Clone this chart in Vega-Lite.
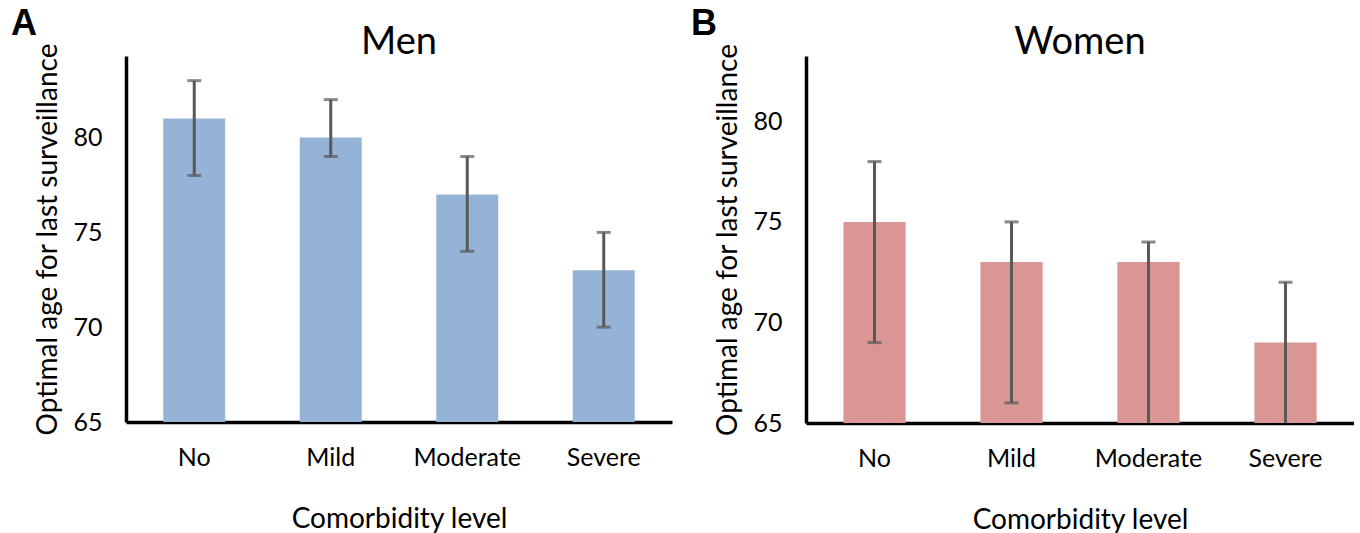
{
  "$schema": "https://vega.github.io/schema/vega-lite/v6.json",
  "background": "white",
  "padding": {"left": 10, "top": 5, "right": 0, "bottom": 0},
  "spacing": 18,
  "datasets": {
    "d": [
      {"sex": "Men", "level": "No", "value": 81, "lower": 78, "upper": 83},
      {"sex": "Men", "level": "Mild", "value": 80, "lower": 79, "upper": 82},
      {"sex": "Men", "level": "Moderate", "value": 77, "lower": 74, "upper": 79},
      {"sex": "Men", "level": "Severe", "value": 73, "lower": 70, "upper": 75},
      {"sex": "Women", "level": "No", "value": 75, "lower": 69, "upper": 78},
      {"sex": "Women", "level": "Mild", "value": 73, "lower": 66, "upper": 75},
      {"sex": "Women", "level": "Moderate", "value": 73, "lower": 64, "upper": 74},
      {"sex": "Women", "level": "Severe", "value": 69, "lower": 64, "upper": 72}
    ]
  },
  "hconcat": [
    {
      "title": {"text": "A", "anchor": "start", "fontSize": 36, "fontWeight": "bold", "font": "Liberation Sans", "dx": -24, "offset": -19},
      "hconcat": [
        {
          "width": 546,
          "height": 366,
          "title": {"text": "Men", "fontSize": 38, "offset": -19},
          "data": {"name": "d"},
          "transform": [{"filter": "datum.sex === 'Men'"}],
          "encoding": {
            "x": {
              "field": "level", "type": "nominal", "sort": ["No", "Mild", "Moderate", "Severe"],
              "scale": {"paddingInner": 0.546, "paddingOuter": 0.273},
              "title": "Comorbidity level"
            }
          },
          "layer": [
            {
              "mark": {"type": "bar", "color": "#95B3D7"},
              "encoding": {
                "y": {"field": "value", "type": "quantitative", "title": "Optimal age for last surveillance",
                  "scale": {"domain": [65, 84.3], "nice": false, "zero": false},
                  "axis": {"values": [65, 70, 75, 80]}},
                "y2": {"datum": 65}
              }
            },
            {
              "mark": {"type": "rule", "color": "#595959", "strokeWidth": 3, "clip": true},
              "encoding": {
                "y": {"field": "lower", "type": "quantitative", "title": "Optimal age for last surveillance"},
                "y2": {"field": "upper"}
              }
            },
            {
              "mark": {"type": "tick", "color": "#595959", "thickness": 3, "size": 14, "clip": true},
              "encoding": {"y": {"field": "upper", "type": "quantitative", "title": "Optimal age for last surveillance"}}
            },
            {
              "mark": {"type": "tick", "color": "#595959", "thickness": 3, "size": 14, "clip": true},
              "encoding": {"y": {"field": "lower", "type": "quantitative", "title": "Optimal age for last surveillance"}}
            }
          ]
        }
      ]
    },
    {
      "title": {"text": "B", "anchor": "start", "fontSize": 36, "fontWeight": "bold", "font": "Liberation Sans", "dx": -24, "offset": -19},
      "hconcat": [
        {
          "width": 548,
          "height": 367,
          "title": {"text": "Women", "fontSize": 38, "offset": -19},
          "data": {"name": "d"},
          "transform": [{"filter": "datum.sex === 'Women'"}],
          "encoding": {
            "x": {
              "field": "level", "type": "nominal", "sort": ["No", "Mild", "Moderate", "Severe"],
              "scale": {"paddingInner": 0.546, "paddingOuter": 0.273},
              "title": "Comorbidity level"
            }
          },
          "layer": [
            {
              "mark": {"type": "bar", "color": "#D99694"},
              "encoding": {
                "y": {"field": "value", "type": "quantitative", "title": "Optimal age for last surveillance",
                  "scale": {"domain": [65, 83.25], "nice": false, "zero": false},
                  "axis": {"values": [65, 70, 75, 80]}},
                "y2": {"datum": 65}
              }
            },
            {
              "mark": {"type": "rule", "color": "#595959", "strokeWidth": 3, "clip": true},
              "encoding": {
                "y": {"field": "lower", "type": "quantitative", "title": "Optimal age for last surveillance"},
                "y2": {"field": "upper"}
              }
            },
            {
              "mark": {"type": "tick", "color": "#595959", "thickness": 3, "size": 14, "clip": true},
              "encoding": {"y": {"field": "upper", "type": "quantitative", "title": "Optimal age for last surveillance"}}
            },
            {
              "mark": {"type": "tick", "color": "#595959", "thickness": 3, "size": 14, "clip": true},
              "encoding": {"y": {"field": "lower", "type": "quantitative", "title": "Optimal age for last surveillance"}}
            }
          ]
        }
      ]
    }
  ],
  "config": {
    "view": {"stroke": null},
    "font": "Lato",
    "title": {"font": "Lato", "fontWeight": "normal", "color": "black"},
    "axis": {
      "domainColor": "black", "domainWidth": 3.5, "ticks": false, "grid": false,
      "labelFont": "Lato", "titleFont": "Lato", "labelColor": "black", "titleColor": "black",
      "labelFontSize": 25, "titleFontSize": 28, "titleFontWeight": "normal"
    },
    "axisX": {"labelAngle": 0, "labelPadding": 23, "titlePadding": 35},
    "axisY": {"labelPadding": 24, "titlePadding": 10}
  }
}
